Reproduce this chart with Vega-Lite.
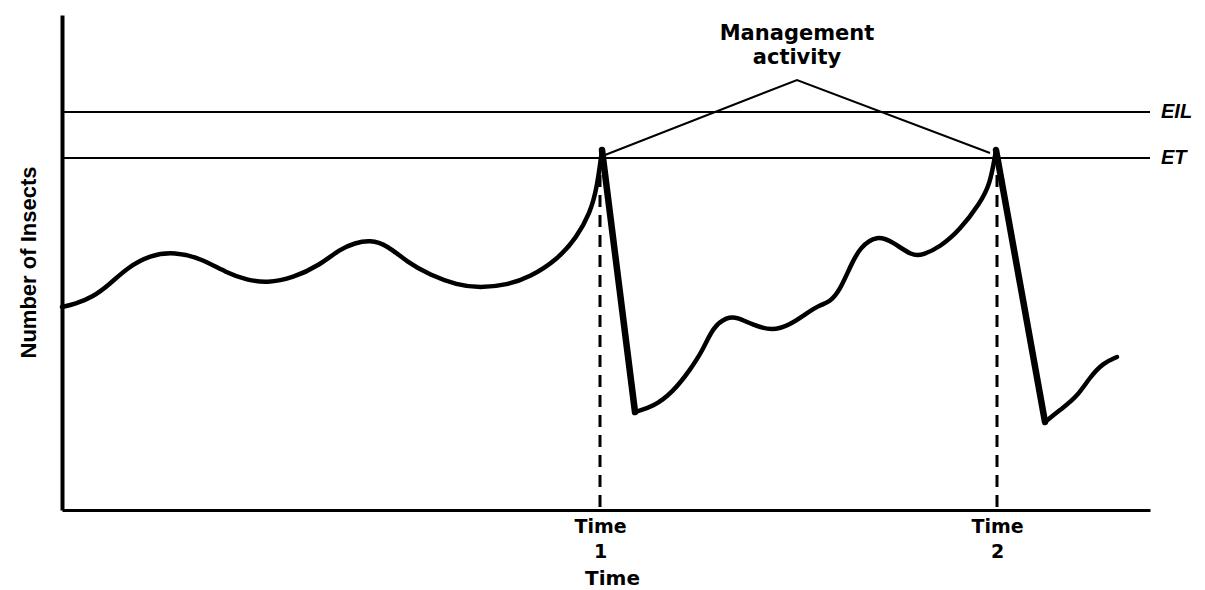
{
  "$schema": "https://vega.github.io/schema/vega-lite/v6.json",
  "width": 1088,
  "height": 495,
  "autosize": {"type": "none"},
  "padding": {"left": 62, "top": 15, "right": 55, "bottom": 80},
  "background": "white",
  "config": {"view": {"stroke": null}, "axis": {"grid": false}},
  "datasets": {
    "curve": [
      {"seg": "A", "time": 0, "insects": 203},
      {"seg": "A", "time": 13, "insects": 206},
      {"seg": "A", "time": 31, "insects": 213},
      {"seg": "A", "time": 48, "insects": 226},
      {"seg": "A", "time": 65, "insects": 242},
      {"seg": "A", "time": 88, "insects": 255},
      {"seg": "A", "time": 113, "insects": 258},
      {"seg": "A", "time": 138, "insects": 252},
      {"seg": "A", "time": 165, "insects": 237},
      {"seg": "A", "time": 185, "insects": 230},
      {"seg": "A", "time": 205, "insects": 227},
      {"seg": "A", "time": 231, "insects": 232},
      {"seg": "A", "time": 258, "insects": 245},
      {"seg": "A", "time": 278, "insects": 261},
      {"seg": "A", "time": 293, "insects": 267},
      {"seg": "A", "time": 308, "insects": 270},
      {"seg": "A", "time": 325, "insects": 265},
      {"seg": "A", "time": 345, "insects": 248},
      {"seg": "A", "time": 368, "insects": 235},
      {"seg": "A", "time": 395, "insects": 225},
      {"seg": "A", "time": 418, "insects": 222},
      {"seg": "A", "time": 445, "insects": 225},
      {"seg": "A", "time": 468, "insects": 233},
      {"seg": "A", "time": 495, "insects": 250},
      {"seg": "A", "time": 515, "insects": 273},
      {"seg": "A", "time": 528, "insects": 297},
      {"seg": "A", "time": 535, "insects": 322},
      {"seg": "A", "time": 540, "insects": 360},
      {"seg": "B", "time": 540, "insects": 360},
      {"seg": "B", "time": 573, "insects": 98},
      {"seg": "C", "time": 573, "insects": 98},
      {"seg": "C", "time": 591, "insects": 103},
      {"seg": "C", "time": 611, "insects": 118},
      {"seg": "C", "time": 628, "insects": 140},
      {"seg": "C", "time": 641, "insects": 160},
      {"seg": "C", "time": 651, "insects": 183},
      {"seg": "C", "time": 665, "insects": 193},
      {"seg": "C", "time": 675, "insects": 193},
      {"seg": "C", "time": 691, "insects": 185},
      {"seg": "C", "time": 710, "insects": 179},
      {"seg": "C", "time": 728, "insects": 185},
      {"seg": "C", "time": 745, "insects": 197},
      {"seg": "C", "time": 758, "insects": 205},
      {"seg": "C", "time": 768, "insects": 208},
      {"seg": "C", "time": 778, "insects": 220},
      {"seg": "C", "time": 788, "insects": 243},
      {"seg": "C", "time": 798, "insects": 263},
      {"seg": "C", "time": 815, "insects": 275},
      {"seg": "C", "time": 831, "insects": 268},
      {"seg": "C", "time": 850, "insects": 254},
      {"seg": "C", "time": 861, "insects": 255},
      {"seg": "C", "time": 878, "insects": 263},
      {"seg": "C", "time": 898, "insects": 280},
      {"seg": "C", "time": 918, "insects": 307},
      {"seg": "C", "time": 928, "insects": 325},
      {"seg": "C", "time": 934, "insects": 360},
      {"seg": "D", "time": 934, "insects": 360},
      {"seg": "D", "time": 983, "insects": 88},
      {"seg": "E", "time": 983, "insects": 88},
      {"seg": "E", "time": 998, "insects": 100},
      {"seg": "E", "time": 1015, "insects": 113},
      {"seg": "E", "time": 1028, "insects": 133},
      {"seg": "E", "time": 1041, "insects": 147},
      {"seg": "E", "time": 1055, "insects": 153}
    ],
    "levels": [
      {"insects": 398, "label": "EIL"},
      {"insects": 352, "label": "ET"}
    ],
    "activity": [
      {"time": 543, "insects": 355},
      {"time": 735, "insects": 430},
      {"time": 928, "insects": 357}
    ],
    "activityLabel": [
      {"time": 735, "insects": 476, "label": "Management"},
      {"time": 735, "insects": 452, "label": "activity"}
    ],
    "events": [
      {"time": 538, "insects": 335},
      {"time": 935, "insects": 335}
    ]
  },
  "layer": [
    {
      "data": {"name": "levels"},
      "mark": {"type": "rule", "color": "black", "strokeWidth": 2},
      "encoding": {
        "y": {
          "field": "insects", "type": "quantitative",
          "scale": {"domain": [0, 495], "nice": false, "zero": false},
          "axis": {
            "title": "Number of Insects",
            "labels": false, "ticks": false,
            "domainColor": "black", "domainWidth": 4,
            "titleFont": "Liberation Sans", "titleFontSize": 22, "titleFontWeight": "bold",
            "titleColor": "black", "titleAngle": 270, "titleX": -34, "titleY": 247,
            "titleBaseline": "middle", "titleAlign": "center"
          }
        },
        "x": {
          "datum": 0, "type": "quantitative",
          "scale": {"domain": [0, 1088], "nice": false, "zero": false},
          "axis": {
            "title": "Time",
            "values": [538, 935],
            "labelExpr": "datum.value < 700 ? ['Time', '1'] : ['Time', '2']",
            "ticks": false,
            "domainColor": "black", "domainWidth": 3,
            "labelFont": "DejaVu Sans", "labelFontSize": 19, "labelFontWeight": "bold",
            "labelColor": "black", "labelLineHeight": 25, "labelBaseline": "top",
            "labelPadding": 7, "labelFlush": false, "labelOverlap": false,
            "titleFont": "DejaVu Sans", "titleFontSize": 20, "titleFontWeight": "bold",
            "titleColor": "black", "titleX": 550, "titleY": 68, "titleBaseline": "middle"
          }
        },
        "x2": {"datum": 1088}
      }
    },
    {
      "data": {"name": "levels"},
      "mark": {"type": "text", "align": "left", "baseline": "middle", "font": "Liberation Sans", "fontSize": 20, "fontWeight": "bold", "fontStyle": "italic", "color": "black"},
      "encoding": {
        "y": {"field": "insects", "type": "quantitative"},
        "x": {"datum": 1099, "type": "quantitative"},
        "text": {"field": "label"}
      }
    },
    {
      "data": {"name": "events"},
      "mark": {"type": "rule", "color": "black", "strokeWidth": 3, "strokeDash": [12, 8]},
      "encoding": {
        "x": {"field": "time", "type": "quantitative"},
        "y": {"field": "insects", "type": "quantitative"},
        "y2": {"datum": 0}
      }
    },
    {
      "data": {"name": "activity"},
      "mark": {"type": "line", "color": "black", "strokeWidth": 2},
      "encoding": {
        "x": {"field": "time", "type": "quantitative"},
        "y": {"field": "insects", "type": "quantitative"}
      }
    },
    {
      "data": {"name": "activityLabel"},
      "mark": {"type": "text", "align": "center", "baseline": "middle", "font": "DejaVu Sans", "fontSize": 21, "fontWeight": "bold", "color": "black"},
      "encoding": {
        "x": {"field": "time", "type": "quantitative"},
        "y": {"field": "insects", "type": "quantitative"},
        "text": {"field": "label"}
      }
    },
    {
      "data": {"name": "curve"},
      "transform": [{"filter": "datum.seg == 'A' || datum.seg == 'C' || datum.seg == 'E'"}],
      "mark": {"type": "line", "color": "black", "strokeWidth": 4.5, "interpolate": "basis", "strokeJoin": "round", "strokeCap": "round"},
      "encoding": {
        "x": {"field": "time", "type": "quantitative"},
        "y": {"field": "insects", "type": "quantitative"},
        "detail": {"field": "seg"}
      }
    },
    {
      "data": {"name": "curve"},
      "transform": [{"filter": "datum.seg == 'B' || datum.seg == 'D'"}],
      "mark": {"type": "line", "color": "black", "strokeWidth": 6.5, "strokeJoin": "round", "strokeCap": "round"},
      "encoding": {
        "x": {"field": "time", "type": "quantitative"},
        "y": {"field": "insects", "type": "quantitative"},
        "detail": {"field": "seg"}
      }
    }
  ]
}
